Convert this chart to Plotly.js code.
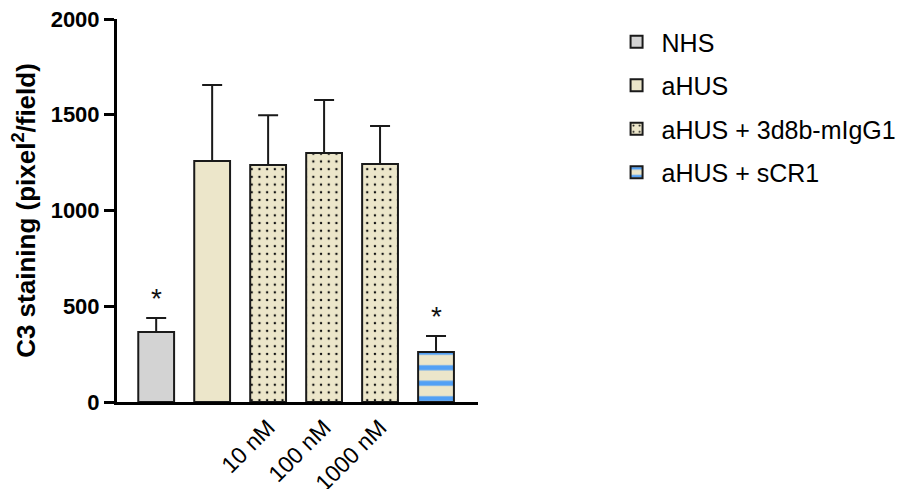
<!DOCTYPE html>
<html><head><meta charset="utf-8">
<script src="https://cdn.plot.ly/plotly-3.0.1.min.js"></script>
<style>body{margin:0}#chart{width:914px;height:489px}</style>
</head><body><div id="chart"></div>
<script>
const categories = ["NHS", "aHUS", "10 nM", "100 nM", "1000 nM", "sCR1"];
const tickCats = ["10 nM", "100 nM", "1000 nM"];
const tickLabels = ["10 nM", "100 nM", "1000 nM"];
const seriesNames = ["NHS", "aHUS", "aHUS + 3d8b-mIgG1", "aHUS + sCR1"];
const nhsX = ["NHS"], nhsY = [365], nhsErr = [73];
const ahusX = ["aHUS"], ahusY = [1258], ahusErr = [397];
const mabX = ["10 nM", "100 nM", "1000 nM"], mabY = [1238, 1300, 1243], mabErr = [260, 277, 198];
const scrX = ["sCR1"], scrY = [261], scrErr = [84];
const starX = ["NHS", "sCR1"], starTop = [438, 345];

const FONT = "Arial, 'Liberation Sans', sans-serif";
const beige = "#ECE6CA";
const line = {color: "#1a1a1a", width: 2};
function err(a){return {type:"data", array:a, arrayminus:a.map(()=>0), symmetric:false, visible:true, color:"#1a1a1a", thickness:2, width:10};}

const traces = [
  {type:"bar", name:seriesNames[0], legendgroup:"g0", x:nhsX, y:nhsY, error_y:err(nhsErr), width:0.64,
   marker:{color:"#D3D3D3", line:line}},
  {type:"bar", name:seriesNames[1], legendgroup:"g1", x:ahusX, y:ahusY, error_y:err(ahusErr), width:0.64,
   marker:{color:beige, line:line}},
  {type:"bar", name:seriesNames[2], legendgroup:"g2", x:mabX, y:mabY, error_y:err(mabErr), width:0.64,
   marker:{color:beige, line:line, pattern:{shape:".", bgcolor:beige, fgcolor:"#111", size:7.7, solidity:0.08}}},
  {type:"bar", name:seriesNames[3], legendgroup:"g3", x:scrX, y:scrY, error_y:err(scrErr), width:0.64,
   marker:{color:beige, line:line, pattern:{shape:"-", bgcolor:beige, fgcolor:"#52A0F5", size:15.5, solidity:0.33}}}
];

const annotations = starX.map((c,i)=>({x:c, y:starTop[i], xref:"x", yref:"y", text:"*", showarrow:false,
  yanchor:"bottom", yshift:2, font:{family:FONT, size:28, color:"#111"}}));

const layout = {
  width:914, height:489,
  margin:{l:117, r:436, t:19, b:87},
  paper_bgcolor:"#fff", plot_bgcolor:"#fff",
  font:{family:FONT, color:"#000"},
  barmode:"overlay",
  showlegend:true,
  legend:{x:1.37, y:1.0, xanchor:"left", yanchor:"top", font:{family:FONT, size:25, color:"#000"},
    traceorder:"grouped", tracegroupgap:8, itemwidth:40},
  xaxis:{type:"category", categoryorder:"array", categoryarray:categories, range:[-0.7,5.75],
    tickmode:"array", tickvals:tickCats, ticktext:tickLabels, tickangle:-45,
    tickfont:{family:FONT, size:23, color:"#000"}, ticks:"",
    showline:true, linecolor:"#000", linewidth:3, showgrid:false, zeroline:false, fixedrange:true},
  yaxis:{range:[0,2000], tickvals:[0,500,1000,1500,2000], ticks:"outside", ticklen:10, tickwidth:3, tickcolor:"#000",
    tickfont:{family:FONT, size:22, color:"#000", weight:"bold"},
    showline:true, linecolor:"#000", linewidth:3, showgrid:false, zeroline:false,
    title:{text:"C3 staining (pixel<sup>2</sup>/field)", font:{family:FONT, size:26, color:"#000", weight:"bold"}, standoff:8}},
  annotations:annotations
};
Plotly.newPlot("chart", traces, layout, {staticPlot:true, displayModeBar:false});
</script></body></html>
